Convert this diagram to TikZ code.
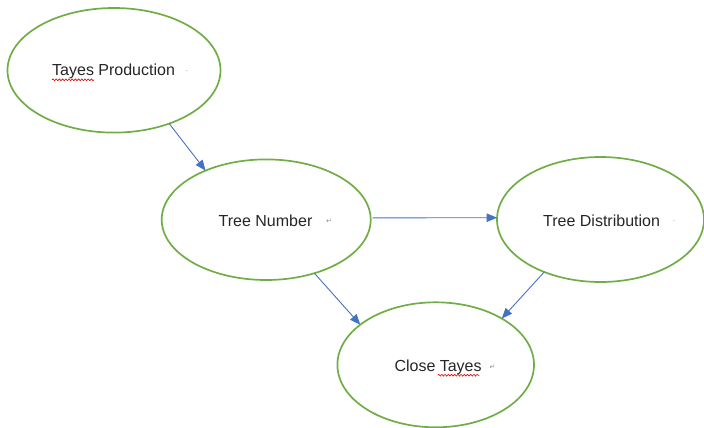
\documentclass[tikz,border=0pt]{standalone}
\usepackage{fontspec}
\setmainfont{Liberation Sans}
\newfontfamily\markfont{DejaVu Sans}
\usetikzlibrary{shapes.geometric,arrows.meta,decorations.pathmorphing}
\definecolor{ellgreen}{HTML}{70AD47}
\definecolor{arrblue}{HTML}{4472C4}
\definecolor{txtgray}{HTML}{262626}
\definecolor{markgray}{HTML}{8C8C8C}
\tikzset{
  oval/.style={ellipse, draw=ellgreen, line width=1.7pt, inner sep=0pt, outer sep=0pt},
  lbl/.style={anchor=base west, inner sep=0pt, text=txtgray, font=\fontsize{16}{19}\selectfont},
  pmark/.style={inner sep=0pt, text=markgray, font=\markfont\fontsize{7}{8}\selectfont},
  flow/.style={draw=arrblue, line width=0.9pt, -{Triangle[length=10.5pt,width=8.5pt]}},
  squig/.style={draw=red!85!black, line width=0.6pt, decorate, decoration={snake, amplitude=0.9pt, segment length=3.2pt}}
}
\begin{document}
\begin{tikzpicture}[x=1pt,y=-1pt]
\useasboundingbox (0,0) rectangle (704,428);
% ellipses
\node[oval, minimum width=213pt, minimum height=124.6pt] (tp) at (114,70.3) {};
\node[oval, minimum width=209pt, minimum height=120.6pt] (tn) at (266.2,219.7) {};
\node[oval, minimum width=207pt, minimum height=125pt] (td) at (600.5,219.5) {};
\node[oval, minimum width=196.6pt, minimum height=125pt] (ct) at (435.7,364.8) {};
% labels
\node[lbl] (tpl) at (52,76) {Tayes Production};
\node[lbl] (tnl) at (218.5,226) {Tree Number};
\node[lbl] (tdl) at (543,226) {Tree Distribution};
\node[lbl] (ctl) at (394.3,371.3) {Close Tayes};
% formatting marks
\node[pmark] (m1) at (187,72) {·};
\node[pmark] (m2) at (329,221) {↵};
\node[pmark] (m3) at (674,222) {·};
\node[pmark] (m4) at (492.5,367) {↵};
% spell-check squiggles
\coordinate (s1a) at (52,79.8);
\coordinate (s1b) at (94,79.8);
\coordinate (s2a) at (437.7,375.2);
\coordinate (s2b) at (479.3,375.2);
\draw[squig] (s1a) -- (s1b);
\draw[squig] (s2a) -- (s2b);
% connectors
\draw[flow] (tp.-44.5) -- (tn.141.5);
\draw[flow, shorten <=2pt] (tn.1) -- (td.179);
\draw[flow] (tn.-48) -- (ct.152.6);
\draw[flow] (td.-137.6) -- (ct.35.4);
\end{tikzpicture}
\end{document}
